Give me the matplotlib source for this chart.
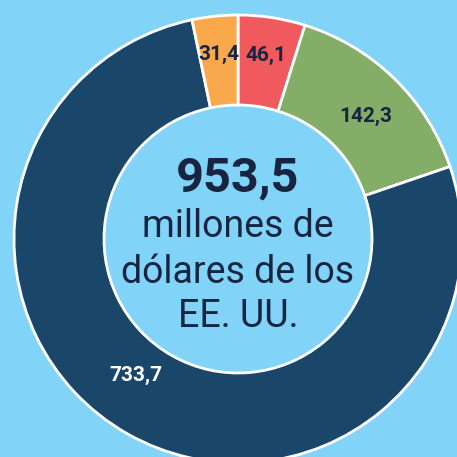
import numpy as np
import matplotlib
matplotlib.use("Agg")
import matplotlib.pyplot as plt

plt.rcParams['font.family'] = ['Roboto', 'DejaVu Sans']

# Data (clockwise from 12 o'clock)
categories = ["A", "B", "C", "D"]
values = [46.1, 142.3, 733.7, 31.4]
labels = ["46,1", "142,3", "733,7", "31,4"]
total_label = "953,5"
center_lines = ["millones de", "dólares de los", "EE. UU."]

# Styling / layout
colors = ["#F05A5E", "#84AE67", "#1A4669", "#F9A94B"]
label_colors = ["#172540", "#172540", "#FFFFFF", "#172540"]
label_radius = [0.83, 0.79, 0.76, 0.83]
label_angle_nudge = [0, -2, -7, 0]  # degrees
bg = "#81D3F8"
txt = "#172540"

W = H = 457
cx, cy, R_px, r_px = 238, 239, 224, 134

fig = plt.figure(figsize=(W / 100, H / 100), dpi=100, facecolor=bg)
ax = fig.add_axes([0, 0, 1, 1])
ax.set_facecolor(bg)

wedges, _ = ax.pie(values, startangle=90, counterclock=False, colors=colors,
                   radius=1.0,
                   wedgeprops=dict(width=1 - r_px / R_px, edgecolor="white", linewidth=2.0))

for w, lab, c, rr, nd in zip(wedges, labels, label_colors, label_radius, label_angle_nudge):
    ang = np.deg2rad((w.theta1 + w.theta2) / 2 + nd)
    ax.text(rr * np.cos(ang), rr * np.sin(ang), lab, ha="center", va="center",
            fontsize=15, fontweight="bold", color=c)

def ypx(p):
    return (cy - p) / R_px

ax.text(0, ypx(192), total_label, ha="center", va="baseline",
        fontsize=35, fontweight="bold", color=txt)
for line, base in zip(center_lines, [237, 283, 327]):
    ax.text(0, ypx(base), line, ha="center", va="baseline",
            fontsize=27, color=txt)

ax.set_xlim(-cx / R_px, (W - cx) / R_px)
ax.set_ylim(-(H - cy) / R_px, cy / R_px)
ax.set_aspect("auto")
ax.axis("off")

fig.savefig("out.png", dpi=100, facecolor=bg)
